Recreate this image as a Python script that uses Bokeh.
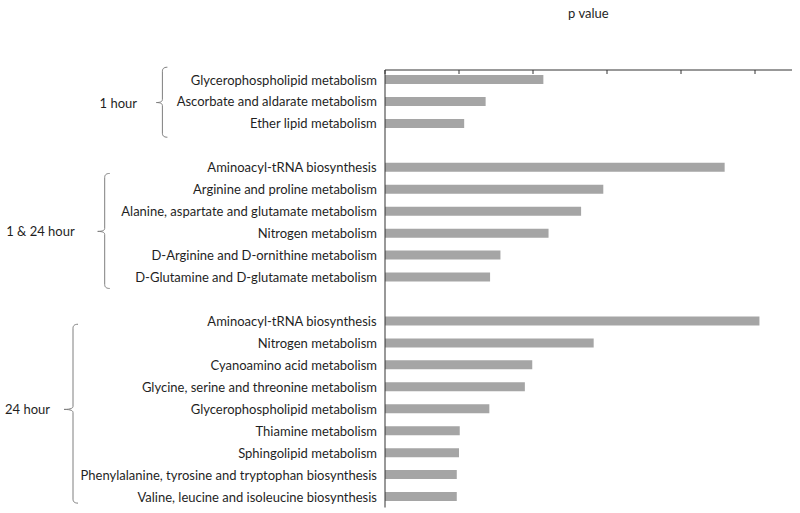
import numpy as np
from bokeh.plotting import figure
from bokeh.models import Range1d
from bokeh.core.properties import value
from bokeh.embed import file_html
from bokeh.resources import INLINE

# ---------------- data ----------------
group_names = ["1 hour", "1  & 24 hour", "24 hour"]

cats_1h = ["Glycerophospholipid metabolism",
           "Ascorbate and aldarate metabolism",
           "Ether lipid metabolism"]
vals_1h = [2.14, 1.36, 1.07]

cats_both = ["Aminoacyl-tRNA biosynthesis",
             "Arginine and proline metabolism",
             "Alanine, aspartate and glutamate metabolism",
             "Nitrogen metabolism",
             "D-Arginine and D-ornithine metabolism",
             "D-Glutamine and D-glutamate metabolism"]
vals_both = [4.59, 2.95, 2.65, 2.21, 1.56, 1.42]

cats_24h = ["Aminoacyl-tRNA biosynthesis",
            "Nitrogen metabolism",
            "Cyanoamino acid metabolism",
            "Glycine, serine and threonine metabolism",
            "Glycerophospholipid metabolism",
            "Thiamine metabolism",
            "Sphingolipid metabolism",
            "Phenylalanine, tyrosine and tryptophan biosynthesis",
            "Valine, leucine and isoleucine biosynthesis"]
vals_24h = [5.06, 2.82, 1.99, 1.89, 1.41, 1.01, 1.00, 0.97, 0.97]

x_ticks = [0, 1, 2, 3, 4, 5]
x_max = 5.5
x_title = "p value"

# ---------------- layout ----------------
FONT = "Lato"
FS = "13px"
TXT = "#1f1f1f"
AXC = "#333333"

W, H = 800, 513
ppx = 74.0                       # px per x unit
ppy = 21.95                      # px per row
x_start = -384.5 / ppx           # value axis origin at 384.5 px
x_end = x_start + W / ppx
y_first = 79.0                   # px of first row centre
y_start = -y_first / ppy         # canvas top
y_end = y_start + H / ppy        # canvas bottom
y_axis = (69.5 - y_first) / ppy  # value-axis line
y_base = (507.0 - y_first) / ppy # bottom of category axis line
tick_len = 4 / ppy

# rows with a blank row between groups
groups = [(cats_1h, vals_1h), (cats_both, vals_both), (cats_24h, vals_24h)]
rows, cats, vals = [], [], []
r = 0
for gc, gv in groups:
    for c, v in zip(gc, gv):
        rows.append(r); cats.append(c); vals.append(v); r += 1
    r += 1

p = figure(width=W, height=H, output_backend="svg", toolbar_location=None,
           x_range=Range1d(x_start, x_end), y_range=Range1d(y_end, y_start),
           x_axis_location=None, y_axis_location=None,
           min_border=0)
p.outline_line_color = None
p.xgrid.visible = False
p.ygrid.visible = False

p.hbar(y=rows, left=0, right=vals, height=0.41, fill_color="#a5a5a5",
       line_color=None)

# value axis (top) : line, inward ticks, title
p.segment(x0=[0], y0=[y_axis], x1=[x_max], y1=[y_axis], line_color=AXC, line_width=1)
p.segment(x0=x_ticks, y0=[y_axis] * len(x_ticks), x1=x_ticks,
          y1=[y_axis + tick_len] * len(x_ticks), line_color=AXC, line_width=1)
p.text(x=[x_max / 2], y=[y_axis - 57 / ppy], text=[x_title],
       text_align="center", text_baseline="middle",
       text_font=value(FONT), text_font_size=FS, text_color=TXT)

# category axis line
p.segment(x0=[0], y0=[y_axis], x1=[0], y1=[y_base], line_color=AXC, line_width=1)

p.text(x=[0] * len(rows), y=rows, text=cats, x_offset=-8,
       text_align="right", text_baseline="middle",
       text_font=value(FONT), text_font_size=FS, text_color=TXT)

# braces: (vertical x px, notch px, top row, bottom row, mid row, label right px)
brace_geo = [(-222.6, 6, -0.56, 2.63, 1.05, -248.0),
             (-280.3, 7, 4.28, 9.52, 6.92, -307.0),
             (-312.0, 9, 11.15, 19.30, 15.03, -335.0)]

def quad(p0, c, p1, n=8):
    t = np.linspace(0, 1, n)[:, None]
    return (1 - t) ** 2 * np.array(p0) + 2 * (1 - t) * t * np.array(c) + t ** 2 * np.array(p1)

lx, ly, lt = [], [], []
for name, (xv, notch, top, bot, mid, lab) in zip(group_names, brace_geo):
    arm, rc, rn = 5.0, 4.0, 3.0
    tp, bp, mp = top * ppy, bot * ppy, mid * ppy
    pts = []
    pts += list(quad((xv + arm, tp), (xv, tp), (xv, tp + rc)))
    pts += list(quad((xv, mp - rn), (xv, mp), (xv - notch, mp)))
    pts += list(quad((xv - notch, mp), (xv, mp), (xv, mp + rn)))
    pts += list(quad((xv, bp - rc), (xv, bp), (xv + arm, bp)))
    pts = np.array(pts)
    p.line(pts[:, 0] / ppx, pts[:, 1] / ppy, line_color="#7f7f7f", line_width=1)
    lx.append(lab / ppx); ly.append(mid); lt.append(name)

p.text(x=lx, y=ly, text=lt, text_align="right", text_baseline="middle",
       text_font=value(FONT), text_font_size=FS, text_color=TXT)

open("out.html", "w").write(file_html(p, INLINE))
